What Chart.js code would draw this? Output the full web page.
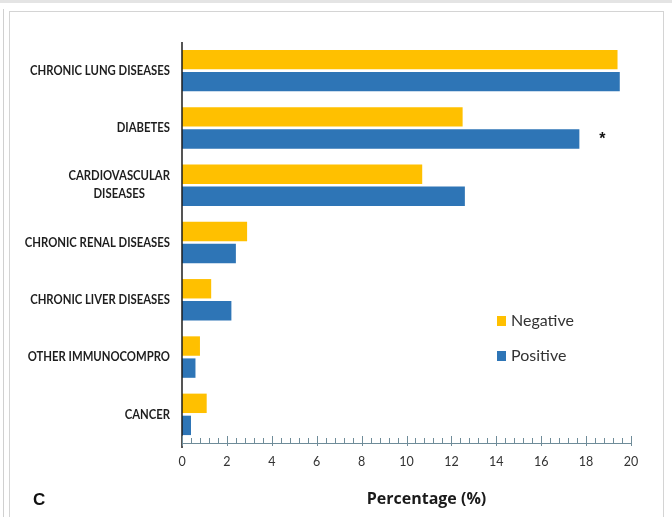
<!DOCTYPE html>
<html>
<head>
<meta charset="utf-8">
<script src="https://cdn.jsdelivr.net/npm/chart.js@4.4.1/dist/chart.umd.min.js"></script>
<style>
  html, body { margin: 0; padding: 0; background: #fff; }
  #wrap { position: relative; width: 672px; height: 517px; overflow: hidden; background: #fff; }
  .band { position: absolute; left: 0; top: 0; width: 672px; height: 3px; background: #e4e4e4; }
  .outer { position: absolute; left: 3px; top: 9px; width: 1px; height: 520px; background: #d0d0d0; }
  .frame { position: absolute; left: 9px; top: 11px; width: 653px; height: 530px; border: 1px solid #d4d4d4; }
  canvas { position: absolute; left: 0; top: 0; }
</style>
</head>
<body>
<div id="wrap">
  <div class="band"></div>
  <div class="outer"></div>
  <div class="frame"></div>
  <canvas id="chart" width="672" height="517"></canvas>
</div>
<script>
// Comorbidity categories (top to bottom)
const categories = [
  'CHRONIC LUNG DISEASES',
  'DIABETES',
  ['CARDIOVASCULAR', 'DISEASES'],
  'CHRONIC RENAL DISEASES',
  'CHRONIC LIVER DISEASES',
  'OTHER IMMUNOCOMPRO',
  'CANCER'
];

// Percentage of patients in each group
const negativeValues = [19.4, 12.5, 10.7, 2.9, 1.3, 0.8, 1.1];
const positiveValues = [19.5, 17.7, 12.6, 2.4, 2.2, 0.6, 0.4];

// Significance markers shown after the Positive bars
const positiveMarkers = ['', '*', '', '', '', '', ''];

// Axis settings
const xMin = 0;
const xMax = 20;
const xMajorStep = 2;
const xMinorStep = 0.4;

const seriesNames = ['Negative', 'Positive'];
const seriesColors = ['#FFC000', '#2E75B6'];

const panelLabel = 'C';
const xAxisTitle = 'Percentage (%)';

const textFont = 'Lato, "Open Sans", sans-serif';
// category labels are set in a narrowed face
const labelCondense = 0.87;

const decorations = {
  id: 'decorations',
  afterDraw(chart) {
    const { ctx, chartArea, scales } = chart;
    const xs = scales.x, ys = scales.y;
    ctx.save();

    // y axis line, running slightly past the x axis
    ctx.strokeStyle = '#1c1c1c';
    ctx.lineWidth = 1.5;
    ctx.beginPath();
    ctx.moveTo(chartArea.left, chartArea.top);
    ctx.lineTo(chartArea.left, chartArea.bottom + 5);
    ctx.stroke();

    // x axis minor / major tick marks
    ctx.strokeStyle = '#6f8c99';
    ctx.lineWidth = 1;
    const nSteps = Math.round((xMax - xMin) / xMinorStep);
    const perMajor = Math.round(xMajorStep / xMinorStep);
    for (let i = 0; i <= nSteps; i++) {
      const px = Math.round(xs.getPixelForValue(xMin + i * xMinorStep)) + 0.5;
      const major = i % perMajor === 0;
      ctx.beginPath();
      ctx.moveTo(px, chartArea.bottom - (major ? 7 : 5));
      ctx.lineTo(px, chartArea.bottom + (major ? 3 : 0));
      ctx.stroke();
    }

    // category labels (drawn in a horizontally condensed space)
    ctx.fillStyle = '#1e1e1e';
    ctx.font = 'bold 13px ' + textFont;
    ctx.textBaseline = 'middle';
    const labelRight = chartArea.left - 12;
    categories.forEach((cat, i) => {
      const py = ys.getPixelForValue(i);
      ctx.save();
      ctx.translate(labelRight, 0);
      ctx.scale(labelCondense, 1);
      if (Array.isArray(cat)) {
        const w = Math.max(...cat.map(t => ctx.measureText(t).width));
        ctx.textAlign = 'center';
        const lh = 18;
        cat.forEach((t, k) => {
          ctx.fillText(t, -w / 2, py + (k - (cat.length - 1) / 2) * lh);
        });
      } else {
        ctx.textAlign = 'right';
        ctx.fillText(cat, 0, py);
      }
      ctx.restore();
    });

    // significance markers
    const meta = chart.getDatasetMeta(1);
    ctx.font = 'bold 16px "Liberation Sans", sans-serif';
    ctx.textAlign = 'center';
    ctx.fillStyle = '#111';
    positiveMarkers.forEach((m, i) => {
      if (!m) return;
      const el = meta.data[i];
      ctx.fillText(m, el.x + 23, el.y + 1);
    });

    // legend
    const lx = 497, ly = [321, 356];
    ctx.font = '16px ' + textFont;
    ctx.textAlign = 'left';
    seriesNames.forEach((name, k) => {
      ctx.fillStyle = seriesColors[k];
      ctx.fillRect(lx, ly[k] - 5, 9, 10);
      ctx.fillStyle = '#333';
      ctx.fillText(name, lx + 14, ly[k]);
    });

    // panel letter and axis title
    ctx.fillStyle = '#111';
    ctx.font = 'bold 17px "Liberation Sans", sans-serif';
    ctx.textAlign = 'left';
    ctx.fillText(panelLabel, 33, 500);
    ctx.font = 'bold 16px "Open Sans", sans-serif';
    ctx.textAlign = 'center';
    ctx.fillStyle = '#1a1a1a';
    ctx.fillText(xAxisTitle, (chartArea.left + chartArea.right) / 2 + 20, 499);

    ctx.restore();
  }
};

new Chart(document.getElementById('chart'), {
  type: 'bar',
  data: {
    labels: categories,
    datasets: [
      { label: seriesNames[0], data: negativeValues, backgroundColor: seriesColors[0] },
      { label: seriesNames[1], data: positiveValues, backgroundColor: seriesColors[1] }
    ]
  },
  options: {
    indexAxis: 'y',
    responsive: false,
    animation: false,
    devicePixelRatio: 1,
    categoryPercentage: 0.77,
    barPercentage: 0.88,
    layout: { padding: { left: 182, right: 41, top: 42, bottom: 0 } },
    plugins: { legend: { display: false }, tooltip: { enabled: false } },
    scales: {
      x: {
        min: xMin,
        max: xMax,
        grid: { display: false, drawTicks: false },
        border: { display: true, color: '#6f8c99', width: 1 },
        ticks: {
          stepSize: xMajorStep,
          color: '#333',
          padding: 11,
          maxRotation: 0,
          font: { family: 'Lato, sans-serif', size: 12.5 }
        },
        afterFit(s) { s.height = 74; }
      },
      y: {
        grid: { display: false, drawTicks: false },
        border: { display: false },
        ticks: { display: false },
        afterFit(s) { s.width = 0; }
      }
    }
  },
  plugins: [decorations]
});
</script>
</body>
</html>
